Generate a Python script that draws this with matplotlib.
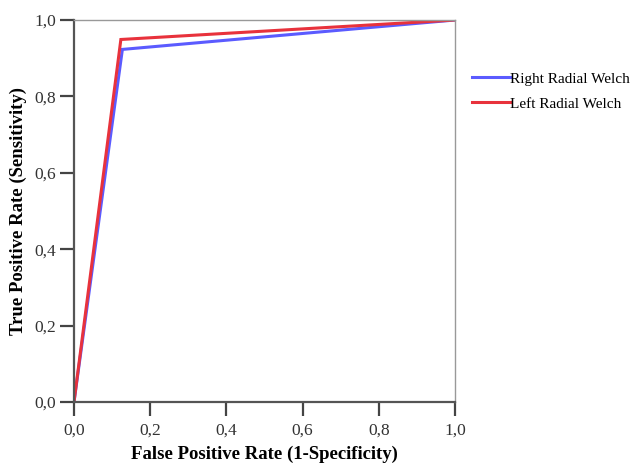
import matplotlib
matplotlib.use("Agg")
import matplotlib.pyplot as plt
from matplotlib.ticker import FuncFormatter

plt.rcParams['font.family'] = ['Liberation Serif', 'DejaVu Serif']

right_fpr = [0.0, 0.127, 1.0]
right_tpr = [0.0, 0.923, 1.0]
left_fpr = [0.0, 0.123, 1.0]
left_tpr = [0.0, 0.949, 1.0]
ticks = [0.0, 0.2, 0.4, 0.6, 0.8, 1.0]

fig = plt.figure(figsize=(6.33, 4.65), dpi=100)
ax = fig.add_axes([74/633, 1-402/465, (455-74)/633, (402-20)/465])

l1, = ax.plot(right_fpr, right_tpr, color='#5b5bff', lw=2.2, label='Right Radial Welch', solid_joinstyle='miter')
l2, = ax.plot(left_fpr, left_tpr, color='#e8323c', lw=2.2, label='Left Radial Welch', solid_joinstyle='miter')

ax.set_xlim(0, 1)
ax.set_ylim(0, 1)
ax.set_xticks(ticks)
ax.set_yticks(ticks)
fmt = FuncFormatter(lambda v, p: f"{v:.1f}".replace('.', ','))
ax.xaxis.set_major_formatter(fmt)
ax.yaxis.set_major_formatter(fmt)
ax.tick_params(direction='out', length=10, width=1.6, color='#444444', labelsize=12.5, labelcolor='#333333', pad=3)
ax.tick_params(axis='x', pad=5)

for s in ['left', 'bottom']:
    ax.spines[s].set_color('#555555')
    ax.spines[s].set_linewidth(1.6)
for s in ['top', 'right']:
    ax.spines[s].set_color('#999999')
    ax.spines[s].set_linewidth(1.0)

ax.set_xlabel('False Positive Rate (1-Specificity)', fontsize=13.5, fontweight='bold', labelpad=5)
ax.set_ylabel('True Positive Rate (Sensitivity)', fontsize=13.5, fontweight='bold', labelpad=5)

fig.legend(handles=[l1, l2], loc='upper left', bbox_to_anchor=(472/633, 1-72/465),
           frameon=False, handlelength=2.5, handletextpad=0.0, fontsize=11,
           labelspacing=0.75, borderaxespad=0, borderpad=0)

fig.savefig('out.png', dpi=100)
